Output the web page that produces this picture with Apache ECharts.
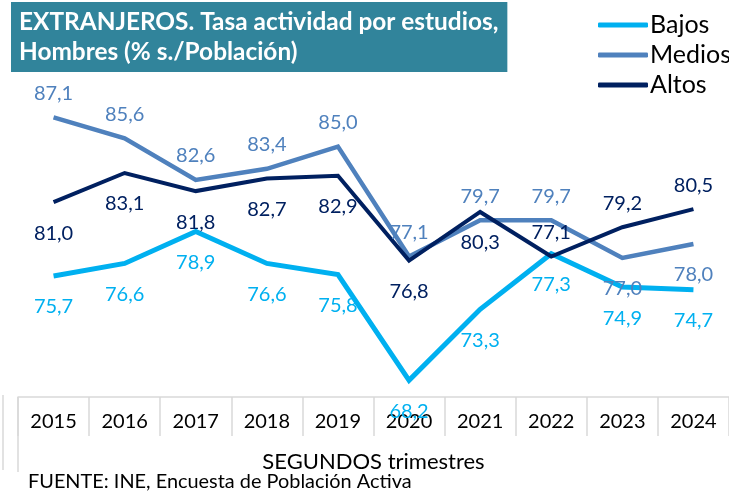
<!DOCTYPE html>
<html>
<head>
<meta charset="utf-8">
<script src="https://cdn.jsdelivr.net/npm/echarts@6/dist/echarts.min.js"></script>
<style>
  html, body { margin: 0; padding: 0; background: #fff; }
  #chart { width: 729px; height: 491px; }
</style>
</head>
<body>
<div id="chart"></div>
<script>
// EXTRANJEROS - tasa de actividad por estudios, hombres
const years = ['2015', '2016', '2017', '2018', '2019', '2020', '2021', '2022', '2023', '2024']
const bajos = [75.7, 76.6, 78.9, 76.6, 75.8, 68.2, 73.3, 77.3, 74.9, 74.7]
const medios = [87.1, 85.6, 82.6, 83.4, 85.0, 77.1, 79.7, 79.7, 77.0, 78.0]
const altos = [81.0, 83.1, 81.8, 82.7, 82.9, 76.8, 80.3, 77.1, 79.2, 80.5]

const FONT = 'Lato, "Liberation Sans", sans-serif'
const fmt = p => p.value.toFixed(1).replace('.', ',')

// etiqueta arriba o abajo segun el punto
function withLabels(values, isTop) {
  return values.map((v, i) => {
    const top = isTop(i)
    return {
      value: v,
      label: {
        position: top ? 'top' : 'bottom',
        distance: top ? 14 : 21
      }
    }
  })
}

function lineSeries(name, values, color, width, isTop) {
  return {
    name: name,
    type: 'line',
    data: withLabels(values, isTop),
    symbol: 'circle',
    symbolSize: 0,
    showSymbol: true,
    lineStyle: { color: color, width: width, cap: 'butt', join: 'miter' },
    itemStyle: { color: color },
    label: {
      show: true,
      color: color,
      fontFamily: FONT,
      fontSize: 20,
      formatter: fmt
    },
    emphasis: { disabled: true },
    animation: false
  }
}

const chart = echarts.init(document.getElementById('chart'))
chart.setOption({
  animation: false,
  title: [
    {
      text: 'EXTRANJEROS. Tasa actividad por estudios,\nHombres (% s./Población)',
      left: 11,
      top: 2,
      padding: [5, 9, 5, 8],
      backgroundColor: '#31849B',
      textStyle: {
        color: '#fff',
        fontFamily: FONT,
        fontWeight: 'bold',
        fontSize: 24.4,
        lineHeight: 30
      }
    },
    {
      text: 'FUENTE: INE, Encuesta de Población Activa',
      left: 28,
      top: 472,
      padding: 0,
      textStyle: {
        color: '#000',
        fontFamily: FONT,
        fontWeight: 'normal',
        fontSize: 19.9
      }
    }
  ],
  legend: {
    orient: 'vertical',
    left: 593,
    top: 5,
    itemGap: 0,
    itemWidth: 50,
    itemHeight: 5,
    icon: 'roundRect',
    data: ['Bajos', 'Medios', 'Altos'],
    textStyle: {
      color: '#000',
      fontFamily: FONT,
      fontSize: 25,
      lineHeight: 30,
      padding: [0, 0, 0, -3]
    },
    selectedMode: false
  },
  grid: {
    left: 18,
    right: 0,
    top: 77,
    bottom: 94
  },
  xAxis: {
    type: 'category',
    data: years,
    boundaryGap: true,
    name: 'SEGUNDOS trimestres',
    nameLocation: 'middle',
    nameGap: 54,
    nameTextStyle: {
      color: '#000',
      fontFamily: FONT,
      fontSize: 22
    },
    axisLine: { lineStyle: { color: '#d9d9d9', width: 1.5 } },
    axisTick: { show: true, length: 39, lineStyle: { color: '#d9d9d9', width: 1.5 } },
    axisLabel: {
      color: '#000',
      fontFamily: FONT,
      fontSize: 20,
      margin: 15
    },
    splitLine: { show: false }
  },
  yAxis: {
    type: 'value',
    min: 67,
    max: 90,
    show: false,
    splitLine: { show: false }
  },
  graphic: [
    { type: 'line', shape: { x1: 18, y1: 397, x2: 18, y2: 472 }, style: { stroke: '#d9d9d9', lineWidth: 1.5 } },
    { type: 'line', shape: { x1: 3, y1: 395, x2: 3, y2: 470 }, style: { stroke: '#d9d9d9', lineWidth: 1.5 } }
  ],
  series: [
    lineSeries('Bajos', bajos, '#00B0F0', 5, i => false),
    lineSeries('Medios', medios, '#4F81BD', 4.5, i => i < 8),
    lineSeries('Altos', altos, '#002060', 4, i => i >= 7)
  ]
})
</script>
</body>
</html>
